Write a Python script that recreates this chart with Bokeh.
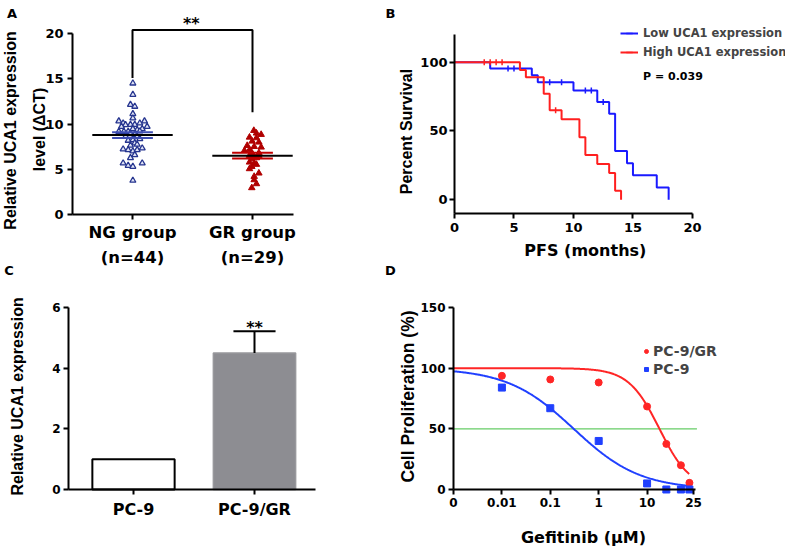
import numpy as np
from bokeh.plotting import figure
from bokeh.layouts import column, row
from bokeh.models import Label, Legend, LegendItem, FixedTicker
from bokeh.embed import file_html
from bokeh.resources import INLINE

H_FONT = "DejaVu Sans"
V_FONT = "Liberation Sans"

# ---------------- Panel A data ----------------
group_labels = ["NG group\n(n=44)", "GR group\n(n=29)"]
ng_values = [14.51, 13.26, 12.15, 11.94, 11.13, 10.65, 10.32, 10.09, 9.91, 9.72, 9.94, 9.94,
             10.09, 10.32, 9.72, 9.47, 9.36, 9.21, 9.17, 9.17, 9.17, 9.47, 8.91, 8.84, 8.62,
             8.62, 8.18, 8.25, 8.36, 7.89, 7.63, 7.74, 7.22, 7.15, 7.00, 7.15, 7.33, 6.59,
             6.26, 5.67, 5.41, 5.30, 5.67, 3.76]
ng_jitter = [0.003, 0.003, -0.017, 0.019, 0.003, 0.003, -0.114, -0.078, -0.058, -0.092, -0.017,
             0.019, 0.061, 0.100, 0.122, 0.081, 0.039, 0.061, -0.114, -0.072, -0.036, 0.003,
             -0.017, 0.019, -0.058, 0.039, -0.036, 0.003, 0.061, 0.019, -0.017, 0.039, -0.078,
             -0.036, 0.003, 0.039, 0.081, 0.019, -0.017, -0.078, -0.036, 0.003, 0.081, 0.003]
gr_values = [9.28, 8.99, 8.84, 8.54, 8.47, 8.10, 7.99, 7.62, 7.51, 7.44, 7.07, 7.15, 6.81, 6.78,
             6.52, 6.41, 6.26, 6.52, 6.15, 5.78, 5.67, 5.30, 5.53, 5.05, 4.57, 4.20, 3.83, 3.39,
             2.95]
gr_jitter = [0.011, 0.033, 0.072, -0.025, 0.033, -0.003, 0.053, -0.044, 0.014, 0.072, -0.067,
             -0.025, 0.053, -0.003, -0.025, 0.011, 0.033, 0.053, -0.006, -0.025, 0.014, -0.006,
             0.033, -0.025, 0.053, 0.014, 0.014, 0.033, -0.006]
bracket_left_bottom = 15.1
bracket_top = 20.4
bracket_right_bottom = 11.3

# ---------------- Panel B data ----------------
low_time = [0, 3, 6.5, 7, 10, 12, 13, 13.5, 14.5, 15, 17, 18]
low_surv = [100, 95.5, 90.5, 85.5, 79.5, 71, 62.5, 35.5, 26.6, 17.8, 8.9, 0]
high_time = [0, 5.5, 6, 7.5, 8, 9, 10.5, 11, 12, 13, 13.5, 14]
high_surv = [100, 94.4, 89, 77, 65, 58.5, 45.5, 32.5, 26, 19.5, 6.5, 0]
low_cens_time = [4.5, 5, 8, 9, 11, 11.5, 12.5]
low_cens_surv = [95.5, 95.5, 85.5, 85.5, 79.5, 79.5, 71]
high_cens_time = [2.5, 3, 3.5, 4, 8.5]
high_cens_surv = [100, 100, 100, 100, 65]
p_value_text = "P = 0.039"

# ---------------- Panel C data ----------------
cell_lines = ["PC-9", "PC-9/GR"]
rel_expr = [1.0, 4.5]
rel_err = [0.0, 0.72]

# ---------------- Panel D data ----------------
dose_um = [0.01, 0.1, 1, 10, 25, 50, 75]
gr_prolif = [93.7, 90.7, 88.2, 68.4, 37.6, 20.0, 5.5]
pc9_prolif = [84.0, 67.0, 40.0, 5.0, 0.0, 0.0, 0.0]
gr_fit = dict(top=100.0, bottom=0.0, log_ic50=1.256, hill=1.36)
pc9_fit = dict(top=100.0, bottom=0.0, log_ic50=-0.516, hill=0.634)
half_level = 50
dose_tick_labels = ["0", "0.01", "0.1", "1", "10", "25"]
dose_tick_pos = [-3, -2, -1, 0, 1, 1.96]


def make_fig(w, h, xr, yr):
    p = figure(width=w, height=h, x_range=xr, y_range=yr, title=None, min_border=0,
               output_backend="svg", toolbar_location=None)
    p.outline_line_color = None
    p.xgrid.visible = False
    p.ygrid.visible = False
    return p


def style_axis(ax, size, ticks, at, bounds, standoff=4, labels=None, line_height=1.2):
    ax.fixed_location = at
    ax.bounds = bounds
    ax.ticker = FixedTicker(ticks=ticks)
    if labels is not None:
        ax.major_label_overrides = {t: l for t, l in zip(ticks, labels)}
    ax.axis_line_width = 2
    ax.axis_line_color = "black"
    ax.major_tick_line_width = 2
    ax.major_tick_line_color = "black"
    ax.major_tick_in = 0
    ax.major_tick_out = 5
    ax.minor_tick_line_color = None
    ax.minor_tick_in = 0
    ax.minor_tick_out = 0
    ax.major_label_text_font = H_FONT
    ax.major_label_text_font_style = "bold"
    ax.major_label_text_font_size = size
    ax.major_label_text_color = "black"
    ax.major_label_text_line_height = line_height
    ax.major_label_standoff = standoff


def lab(p, x, y, text, size, font=H_FONT, angle=0.0, baseline="middle"):
    p.add_layout(Label(x=x, y=y, text=text, angle=angle, text_font=font,
                       text_font_style="bold", text_font_size=size, text_align="center",
                       text_baseline=baseline, text_color="black"))


ROT = np.pi / 2

# ================= Panel A =================
pA = make_fig(382, 278, (-0.1, 3.0833), (-7.076, 23.66))
style_axis(pA.xaxis[0], "16.5px", [1, 2], 0, (0.5, 2.342), standoff=4, labels=group_labels,
           line_height=1.3)
style_axis(pA.yaxis[0], "13px", [0, 5, 10, 15, 20], 0.5, (0, 20), standoff=4)

ng_arr = np.array(ng_values)
gr_arr = np.array(gr_values)
pA.scatter(1 + np.array(ng_jitter), ng_arr, marker="triangle", size=6, line_color="#26358f",
           line_width=1.3, fill_color="#dfe3f5")
pA.scatter(2 + np.array(gr_jitter), gr_arr, marker="triangle", size=6.5, line_color="#b00000",
           fill_color="#b00000")
means = np.array([ng_arr.mean(), gr_arr.mean()])
sems = np.array([ng_arr.std(ddof=1) / np.sqrt(len(ng_arr)),
                 gr_arr.std(ddof=1) / np.sqrt(len(gr_arr))])
pos = np.array([1.0, 2.0])
sem_cols = ["#3f4fb5", "#c00000"]
for i in range(2):
    pA.segment([pos[i] - 0.17] * 2, [means[i] - sems[i], means[i] + sems[i]],
               [pos[i] + 0.17] * 2, [means[i] - sems[i], means[i] + sems[i]],
               line_color=sem_cols[i], line_width=2)
pA.segment(pos - 0.335, means, pos + 0.335, means, line_color="black", line_width=2)
pA.line([1, 1, 2, 2], [bracket_left_bottom, bracket_top, bracket_top, bracket_right_bottom],
        line_color="black", line_width=2)
lab(pA, 1.49, 21.1, "**", "16px", baseline="alphabetic")
lab(pA, -0.017, 9.29, "Relative UCA1 expression", "16px", font=V_FONT, angle=ROT)
lab(pA, 0.221, 9.40, "level (\u0394CT)", "16px", font=V_FONT, angle=ROT)
lab(pA, -0.004, 22.22, "A", "13px")
lab(pA, -0.029, -6.14, "C", "13px")

# ================= Panel B =================
pB = make_fig(403, 278, (-6.05, 27.82), (-57.2, 144.84))
style_axis(pB.xaxis[0], "13px", [0, 5, 10, 15, 20], -10, (0, 20), standoff=4)
style_axis(pB.yaxis[0], "13px", [0, 50, 100], 0, (-10, 120), standoff=2)

KM_BLUE = "#1a1aff"
KM_RED = "#ff1f1f"
lo_step = pB.step(low_time, low_surv, mode="after", line_color=KM_BLUE, line_width=2)
lo_cens = pB.scatter(low_cens_time, low_cens_surv, marker="dash", angle=ROT, size=6,
                     line_color=KM_BLUE, line_width=1.5)
hi_step = pB.step(high_time, high_surv, mode="after", line_color=KM_RED, line_width=2)
hi_cens = pB.scatter(high_cens_time, high_cens_surv, marker="dash", angle=ROT, size=6,
                     line_color=KM_RED, line_width=1.5)
legB = Legend(items=[LegendItem(label="Low UCA1 expression", renderers=[lo_step, lo_cens]),
                     LegendItem(label="High UCA1 expression", renderers=[hi_step, hi_cens])],
              location=(238, 218), padding=0, margin=0, spacing=3, glyph_width=18,
              glyph_height=16, label_height=16, label_standoff=5,
              label_text_font=H_FONT, label_text_font_style="bold",
              label_text_font_size="11.5px", border_line_alpha=0, background_fill_alpha=0)
pB.add_layout(legB)
lab(pB, 18.36, 89.6, p_value_text, "11px")
lab(pB, -4.03, 49.6, "Percent Survival", "16px", font=V_FONT, angle=ROT)
lab(pB, 11.0, -36.8, "PFS (months)", "16px")
lab(pB, -5.38, 135.4, "B", "13px")
lab(pB, -5.38, -51.4, "D", "13px")

# ================= Panel C =================
pC = make_fig(382, 273, (-0.0992, 3.0579), (-2.044, 6.957))
style_axis(pC.xaxis[0], "16px", [1, 2], 0, (0.4628, 2.504), standoff=5, labels=cell_lines)
style_axis(pC.yaxis[0], "12px", [0, 2, 4, 6], 0.4628, (0, 6), standoff=3)

xc = np.array([1.0, 2.0])
pC.vbar(x=xc, top=rel_expr, width=0.68, fill_color=["white", "#8d8d92"],
        line_color=["black", "#98989c"], line_width=[2, 1.5])
tops = np.array(rel_expr)
errs = np.array(rel_err)
has = errs > 0
pC.segment(xc[has], tops[has], xc[has], (tops + errs)[has], line_color="black", line_width=2)
pC.segment(xc[has] - 0.174, (tops + errs)[has], xc[has] + 0.174, (tops + errs)[has],
           line_color="black", line_width=2)
lab(pC, 2.0, 5.33, "**", "16px", baseline="alphabetic")
lab(pC, 0.0413, 3.07, "Relative UCA1 expression", "16px", font=V_FONT, angle=ROT)

# ================= Panel D =================
pD = make_fig(403, 273, (-4.467, 3.86), (-51.1, 173.9))
style_axis(pD.xaxis[0], "12px", dose_tick_pos, 0, (-3, 2.0), standoff=4,
           labels=dose_tick_labels)
style_axis(pD.yaxis[0], "12px", [0, 50, 100, 150], -3, (0, 150), standoff=3)

log_dose = np.log10(np.array(dose_um))
xfit = np.linspace(-3, 1.87, 300)


def logistic(x, f):
    return f["bottom"] + (f["top"] - f["bottom"]) / (1 + 10 ** ((x - f["log_ic50"]) * f["hill"]))


D_RED = "#ff2626"
D_BLUE = "#2040ff"
pD.line([-3, 2.03], [half_level, half_level], line_color="#66cc66", line_width=1.2)
pD.line(xfit, logistic(xfit, pc9_fit), line_color=D_BLUE, line_width=2)
pD.line(xfit, logistic(xfit, gr_fit), line_color=D_RED, line_width=2)
r_gr = pD.scatter(log_dose, gr_prolif, marker="circle", size=7, line_color=D_RED,
                  fill_color=D_RED)
r_pc9 = pD.scatter(log_dose, pc9_prolif, marker="square", size=7, line_color=D_BLUE,
                   fill_color=D_BLUE)
legD = Legend(items=[LegendItem(label="PC-9/GR", renderers=[r_gr]),
                     LegendItem(label="PC-9", renderers=[r_pc9])],
              location=(259, 174), padding=0, margin=0, spacing=2, glyph_width=10,
              glyph_height=16, label_height=16, label_standoff=2,
              label_text_font=H_FONT, label_text_font_style="bold",
              label_text_font_size="14px", border_line_alpha=0, background_fill_alpha=0)
pD.add_layout(legD)
lab(pD, -3.93, 76.65, "Cell Proliferation (%)", "17.5px", font=V_FONT, angle=ROT)
lab(pD, -0.314, -39.6, "Gefitinib (\u03bcM)", "16px")

layout = column(row(pA, pB), row(pC, pD))
open("out.html", "w").write(file_html(layout, INLINE))
